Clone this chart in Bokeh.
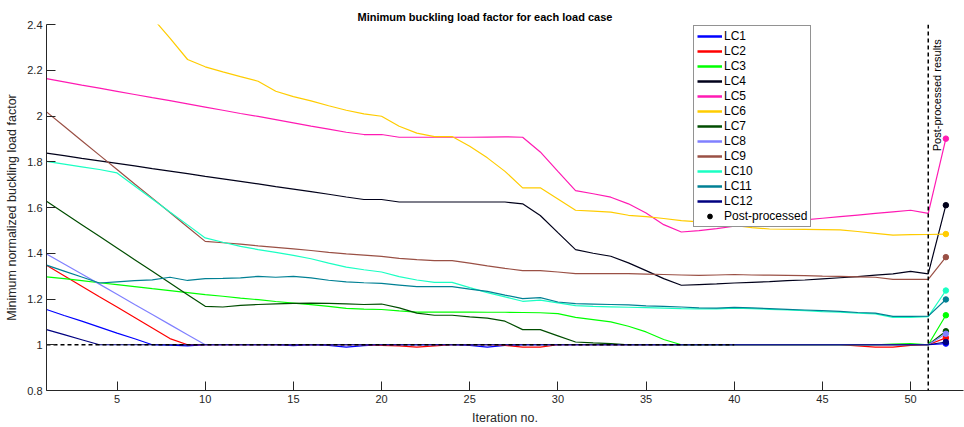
import math
from bokeh.plotting import figure
from bokeh.models import (Range1d, FixedTicker, CustomJSTickFormatter, Legend,
                          LegendItem, Label, Span)
from bokeh.embed import file_html
from bokeh.resources import INLINE

# ---------------- data ----------------
iterations = list(range(1, 52))
post_iteration = 52
post_start = 51
threshold = 1.0
threshold_end = 40

labels = ["LC1", "LC2", "LC3", "LC4", "LC5", "LC6",
          "LC7", "LC8", "LC9", "LC10", "LC11", "LC12"]

lc1 = [1.154, 1.128, 1.103, 1.077, 1.051, 1.026, 1.000, 0.998, 0.995, 1.000,
       1.000, 1.000, 1.000, 1.000, 0.996, 1.000, 0.997, 0.990, 0.996, 1.000,
       1.000, 1.000, 1.000, 1.000, 0.997, 0.990, 0.997, 1.000, 1.000, 1.000,
       1.000, 1.000, 1.000, 1.000, 1.000, 1.000, 1.000, 1.000, 1.000, 1.000,
       1.000, 1.000, 1.000, 1.000, 1.000, 1.000, 1.000, 1.000, 1.000, 1.000,
       1.000]
lc2 = [1.348, 1.302, 1.256, 1.210, 1.165, 1.119, 1.073, 1.027, 1.000, 1.000,
       1.000, 1.000, 1.000, 1.000, 1.000, 1.000, 1.000, 1.000, 1.000, 0.997,
       0.995, 0.990, 0.995, 1.000, 1.000, 1.000, 0.997, 0.990, 0.990, 1.000,
       1.000, 1.000, 1.000, 1.000, 1.000, 1.000, 1.000, 1.000, 1.000, 1.000,
       1.000, 1.000, 1.000, 1.000, 1.000, 1.000, 0.995, 0.990, 0.990, 0.997,
       1.000]
lc3 = [1.297, 1.289, 1.280, 1.271, 1.263, 1.254, 1.245, 1.237, 1.228, 1.219,
       1.212, 1.204, 1.197, 1.189, 1.182, 1.175, 1.168, 1.159, 1.156, 1.154,
       1.148, 1.143, 1.143, 1.143, 1.143, 1.142, 1.142, 1.141, 1.140, 1.136,
       1.120, 1.110, 1.100, 1.081, 1.056, 1.023, 1.000, 1.000, 1.000, 1.000,
       1.000, 1.000, 1.000, 1.000, 1.000, 1.000, 1.000, 1.000, 1.003, 1.005,
       1.000]
lc4 = [1.838, 1.827, 1.815, 1.804, 1.793, 1.782, 1.770, 1.759, 1.748, 1.736,
       1.725, 1.714, 1.703, 1.691, 1.680, 1.669, 1.658, 1.646, 1.635, 1.635,
       1.624, 1.624, 1.624, 1.624, 1.624, 1.624, 1.624, 1.616, 1.565, 1.490,
       1.416, 1.400, 1.387, 1.358, 1.324, 1.289, 1.260, 1.263, 1.266, 1.270,
       1.273, 1.276, 1.280, 1.283, 1.288, 1.293, 1.298, 1.304, 1.310, 1.321,
       1.310]
lc5 = [2.163, 2.149, 2.135, 2.122, 2.108, 2.094, 2.080, 2.067, 2.053, 2.039,
       2.025, 2.011, 1.998, 1.984, 1.970, 1.956, 1.943, 1.929, 1.919, 1.919,
       1.907, 1.907, 1.907, 1.907, 1.907, 1.908, 1.909, 1.907, 1.843, 1.758,
       1.674, 1.660, 1.645, 1.616, 1.576, 1.525, 1.493, 1.499, 1.508, 1.518,
       1.525, 1.532, 1.539, 1.546, 1.553, 1.560, 1.567, 1.574, 1.581, 1.588,
       1.574]
lc6 = [2.970, 2.880, 2.790, 2.700, 2.610, 2.520, 2.430, 2.340, 2.247, 2.215,
       2.193, 2.172, 2.152, 2.108, 2.085, 2.066, 2.045, 2.025, 2.009, 1.999,
       1.955, 1.925, 1.910, 1.910, 1.868, 1.817, 1.758, 1.686, 1.686, 1.637,
       1.588, 1.584, 1.580, 1.566, 1.560, 1.552, 1.543, 1.537, 1.530, 1.522,
       1.512, 1.506, 1.505, 1.504, 1.503, 1.502, 1.495, 1.487, 1.479, 1.481,
       1.482]
lc7 = [1.627, 1.576, 1.525, 1.474, 1.423, 1.372, 1.321, 1.270, 1.219, 1.168,
       1.165, 1.172, 1.176, 1.179, 1.181, 1.182, 1.181, 1.179, 1.176, 1.178,
       1.161, 1.138, 1.129, 1.129, 1.122, 1.116, 1.103, 1.066, 1.066, 1.039,
       1.012, 1.008, 1.005, 1.000, 1.000, 1.000, 1.000, 1.000, 1.000, 1.000,
       1.000, 1.000, 1.000, 1.000, 1.000, 1.000, 1.000, 1.000, 1.000, 1.000,
       1.000]
lc8 = [1.397, 1.353, 1.309, 1.265, 1.221, 1.176, 1.132, 1.088, 1.044, 1.000,
       1.000, 1.000, 1.000, 1.000, 1.000, 1.000, 1.000, 1.000, 1.000, 1.000,
       1.000, 1.000, 1.000, 1.000, 1.000, 1.000, 1.000, 1.000, 1.000, 1.000,
       1.000, 1.000, 1.000, 1.000, 1.000, 1.000, 1.000, 1.000, 1.000, 1.000,
       1.000, 1.000, 1.000, 1.000, 1.000, 1.000, 1.000, 1.000, 1.000, 1.000,
       1.000]
lc9 = [2.018, 1.955, 1.892, 1.829, 1.766, 1.703, 1.641, 1.578, 1.515, 1.452,
       1.446, 1.440, 1.432, 1.426, 1.419, 1.412, 1.404, 1.397, 1.392, 1.386,
       1.378, 1.372, 1.368, 1.368, 1.357, 1.345, 1.334, 1.324, 1.324, 1.318,
       1.311, 1.311, 1.311, 1.311, 1.309, 1.307, 1.305, 1.303, 1.305, 1.307,
       1.305, 1.304, 1.303, 1.302, 1.300, 1.299, 1.297, 1.295, 1.286, 1.286,
       1.286]
lc10 = [1.802, 1.790, 1.778, 1.766, 1.751, 1.694, 1.637, 1.580, 1.524, 1.467,
        1.448, 1.430, 1.416, 1.404, 1.391, 1.376, 1.357, 1.339, 1.328, 1.318,
        1.298, 1.283, 1.273, 1.273, 1.250, 1.228, 1.209, 1.190, 1.195, 1.183,
        1.171, 1.168, 1.166, 1.164, 1.162, 1.160, 1.158, 1.157, 1.157, 1.160,
        1.158, 1.155, 1.152, 1.149, 1.145, 1.143, 1.138, 1.135, 1.120, 1.120,
        1.123]
lc11 = [1.348, 1.322, 1.296, 1.270, 1.275, 1.280, 1.284, 1.295, 1.281, 1.289,
        1.290, 1.292, 1.299, 1.295, 1.299, 1.292, 1.282, 1.275, 1.271, 1.268,
        1.261, 1.254, 1.254, 1.254, 1.243, 1.233, 1.217, 1.202, 1.206, 1.187,
        1.180, 1.178, 1.176, 1.174, 1.170, 1.168, 1.165, 1.161, 1.160, 1.163,
        1.161, 1.158, 1.155, 1.152, 1.149, 1.146, 1.141, 1.138, 1.124, 1.124,
        1.125]
lc12 = [1.066, 1.044, 1.022, 1.000, 1.000, 1.000, 1.000, 1.000, 1.000, 1.000,
        1.000, 1.000, 1.000, 1.000, 1.000, 1.000, 1.000, 1.000, 1.000, 1.000,
        1.000, 1.000, 1.000, 1.000, 1.000, 1.000, 1.000, 1.000, 1.000, 1.000,
        1.000, 1.000, 1.000, 1.000, 1.000, 1.000, 1.000, 1.000, 1.000, 1.000,
        1.000, 1.000, 1.000, 1.000, 1.000, 1.000, 1.000, 1.000, 1.000, 1.000,
        1.000]

post_values = [1.005, 1.030, 1.129, 1.610, 1.901, 1.484,
               1.059, 1.048, 1.383, 1.237, 1.198, 1.012]

x_ticks = [5, 10, 15, 20, 25, 30, 35, 40, 45, 50]
y_ticks = [0.8, 1.0, 1.2, 1.4, 1.6, 1.8, 2.0, 2.2, 2.4]

series = [lc1, lc2, lc3, lc4, lc5, lc6, lc7, lc8, lc9, lc10, lc11, lc12]

# ---------------- styles ----------------
colors = ["#0000ff", "#ff0000", "#00ff00", "#00001a", "#ff1ab3", "#ffcc00",
          "#004d00", "#8080ff", "#9a5045", "#1affc3", "#008094", "#000080"]
FONT = "Liberation Sans"
TXT = "#262626"
NAN = float("nan")

p = figure(width=964, height=427, output_backend="svg", toolbar_location=None,
           x_range=Range1d(1, 53), y_range=Range1d(0.8, 2.4),
           min_border_left=46, min_border_right=1, min_border_top=24,
           min_border_bottom=37, outline_line_color=None,
           background_fill_color="white", border_fill_color="white")
p.grid.visible = False

p.title.text = "Minimum buckling load factor for each load case"
p.title.text_font = FONT
p.title.text_font_style = "bold"
p.title.text_font_size = "11px"
p.title.text_color = "black"
p.title.align = "left"
p.title.offset = 311
p.title.standoff = 3

for ax in (p.xaxis[0], p.yaxis[0]):
    ax.axis_line_color = TXT
    ax.major_tick_line_color = TXT
    ax.major_tick_in = 9
    ax.major_tick_out = 0
    ax.minor_tick_line_color = None
    ax.major_label_text_font = FONT
    ax.major_label_text_font_size = "11px"
    ax.major_label_text_color = TXT
    ax.axis_label_text_font = FONT
    ax.axis_label_text_font_size = "12.5px"
    ax.axis_label_text_font_style = "normal"
    ax.axis_label_text_color = TXT
    ax.major_label_standoff = 4
    ax.axis_label_standoff = 5

p.xaxis.ticker = FixedTicker(ticks=x_ticks)
p.yaxis.ticker = FixedTicker(ticks=y_ticks)
p.yaxis.formatter = CustomJSTickFormatter(
    code="return tick.toFixed(1).replace(/\\.0$/, '');")
p.xaxis.axis_label = "Iteration no."
p.yaxis.axis_label = "Minimum normalized buckling load factor"

items = []
for name, vals, pv, col in zip(labels, series, post_values, colors):
    p.line(iterations + [post_iteration], vals + [pv], line_color=col,
           line_width=1.2)
    p.scatter([post_iteration], [pv], size=5.5, fill_color=col, line_color=col)
    # legend proxy with a thicker stroke, like the reference legend
    proxy = p.line([NAN], [NAN], line_color=col, line_width=2.5)
    items.append(LegendItem(label=name, renderers=[proxy]))

# reference lines
p.line([iterations[0], threshold_end], [threshold, threshold],
       line_color="black", line_width=1.5, line_dash="4 3")
p.add_layout(Span(location=post_start, dimension="height", line_color="black",
                  line_width=1.5, line_dash="4 3"))

dummy = p.scatter([NAN], [NAN], size=5, fill_color="black",
                  line_color="black")
items.append(LegendItem(label="Post-processed", renderers=[dummy]))

legend = Legend(items=items, location=(647, 163),
                label_text_font=FONT, label_text_font_size="12px",
                label_text_color="black", label_height=12, glyph_height=12,
                glyph_width=25, label_standoff=2, spacing=1, padding=3,
                margin=0, border_line_color=TXT, border_line_width=1,
                background_fill_color="white", background_fill_alpha=1.0)
p.add_layout(legend)

p.add_layout(Label(x=post_start + 0.48, y=1.846, text="Post-processed results",
                   angle=math.pi / 2, text_align="left", text_baseline="middle",
                   text_font=FONT, text_font_size="11px", text_color="black"))

open("out.html", "w").write(file_html(p, INLINE))
